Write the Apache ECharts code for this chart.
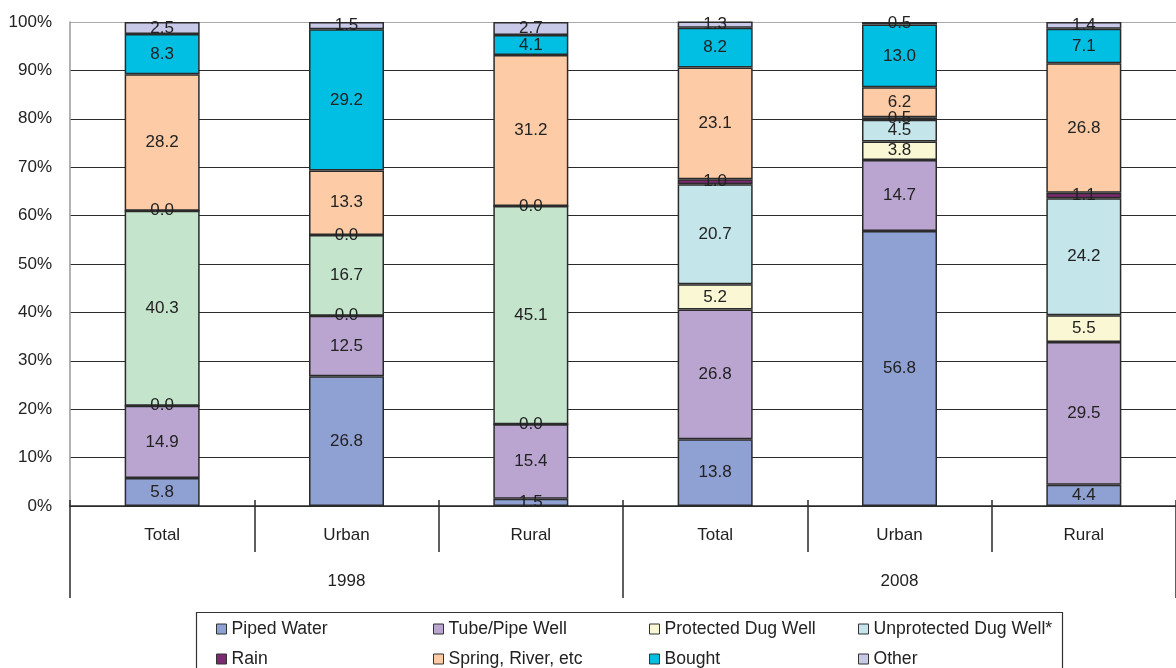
<!DOCTYPE html>
<html>
<head>
<meta charset="utf-8">
<script src="https://cdn.jsdelivr.net/npm/echarts@6/dist/echarts.min.js"></script>
<style>
html,body{margin:0;padding:0;background:#fff;}
#chart{width:1176px;height:668px;}
</style>
</head>
<body>
<div id="chart"></div>
<script>
const categories = ['Total', 'Urban', 'Rural', 'Total', 'Urban', 'Rural'];
const years = ['1998', '2008'];
const yTickValues = [0, 10, 20, 30, 40, 50, 60, 70, 80, 90, 100];

const pipedWater     = [5.8, 26.8, 1.5, 13.8, 56.8, 4.4];
const tubePipeWell   = [14.9, 12.5, 15.4, 26.8, 14.7, 29.5];
const protectedDug   = [0.0, 0.0, 0.0, 5.2, 3.8, 5.5];
const unprotectedDug = [null, null, null, 20.7, 4.5, 24.2];
const dugWell1998    = [40.3, 16.7, 45.1, null, null, null];
const rain           = [0.0, 0.0, 0.0, 1.0, 0.5, 1.1];
const springRiver    = [28.2, 13.3, 31.2, 23.1, 6.2, 26.8];
const bought         = [8.3, 29.2, 4.1, 8.2, 13.0, 7.1];
const other          = [2.5, 1.5, 2.7, 1.3, 0.5, 1.4];

const FONT = "'Liberation Sans', Arial, sans-serif";
const TXT = '#222';

function mkSeries(name, data, color) {
  return {
    name: name,
    type: 'bar',
    stack: 'all',
    data: data,
    barWidth: 75,
    itemStyle: { color: color, borderColor: '#2b2b2b', borderWidth: 1.5 },
    label: {
      show: true,
      position: 'inside',
      color: TXT,
      fontFamily: FONT,
      fontSize: 17,
      formatter: p => (p.value == null ? '' : Number(p.value).toFixed(1))
    }
  };
}

const series = [
  mkSeries('Piped Water', pipedWater, '#8fa0d2'),
  mkSeries('Tube/Pipe Well', tubePipeWell, '#b9a5d0'),
  mkSeries('Protected Dug Well', protectedDug, '#faf7d4'),
  mkSeries('Unprotected Dug Well*', unprotectedDug, '#c4e6ea'),
  mkSeries('Dug Well', dugWell1998, '#c4e4cc'),
  mkSeries('Rain', rain, '#7a2a6e'),
  mkSeries('Spring, River, etc', springRiver, '#fdcba5'),
  mkSeries('Bought', bought, '#00bfe3'),
  mkSeries('Other', other, '#c8c9e9')
];

const gridColors = yTickValues.map(v => (v === 100 ? '#aaaaaa' : '#2b2b2b'));

const legendCols = [211, 428, 644, 853];
const legendRows = [615, 645];
const legendOrder = [
  'Piped Water', 'Tube/Pipe Well', 'Protected Dug Well', 'Unprotected Dug Well*',
  'Rain', 'Spring, River, etc', 'Bought', 'Other'
];
const legends = legendOrder.map((name, i) => ({
  data: [name],
  left: legendCols[i % 4],
  top: legendRows[Math.floor(i / 4)],
  itemWidth: 10,
  itemHeight: 10,
  icon: 'rect',
  itemStyle: { borderColor: '#333', borderWidth: 1 },
  textStyle: { fontFamily: FONT, fontSize: 17.6, color: TXT },
  selectedMode: false
}));

const chart = echarts.init(document.getElementById('chart'), null, { renderer: 'canvas' });
chart.setOption({
  animation: false,
  backgroundColor: '#fff',
  grid: { left: 70, top: 22, bottom: 162, right: -10, containLabel: false },
  legend: legends,
  xAxis: [
    {
      type: 'category',
      data: categories,
      position: 'bottom',
      axisLine: { show: true, lineStyle: { color: '#2b2b2b', width: 1.5 } },
      axisTick: { show: true, length: 46, lineStyle: { color: '#2b2b2b', width: 1.5 } },
      axisLabel: { margin: 21, fontFamily: FONT, fontSize: 17, color: TXT }
    },
    {
      type: 'category',
      data: years,
      position: 'bottom',
      axisLine: { show: false },
      axisTick: { show: true, length: 92, lineStyle: { color: '#2b2b2b', width: 1.5 } },
      axisLabel: { margin: 67, fontFamily: FONT, fontSize: 17, color: TXT }
    },
    {
      type: 'category',
      data: categories,
      position: 'bottom',
      axisLine: { show: false },
      axisTick: { show: true, inside: true, length: 6, lineStyle: { color: '#2b2b2b', width: 1.5 } },
      axisLabel: { show: false }
    }
  ],
  yAxis: {
    type: 'value',
    min: 0,
    max: 100,
    interval: 10,
    axisLine: { show: true, lineStyle: { color: '#999', width: 1.5 } },
    axisTick: { show: false },
    axisLabel: { formatter: '{value}%', margin: 18, fontFamily: FONT, fontSize: 17, color: TXT },
    splitLine: { show: true, lineStyle: { color: gridColors, width: 1.2 } }
  },
  graphic: [
    {
      type: 'rect',
      shape: { x: 196.5, y: 612.5, width: 866, height: 100 },
      style: { fill: 'none', stroke: '#333', lineWidth: 1.2 },
      z: 0
    }
  ],
  series: series
});
</script>
</body>
</html>
